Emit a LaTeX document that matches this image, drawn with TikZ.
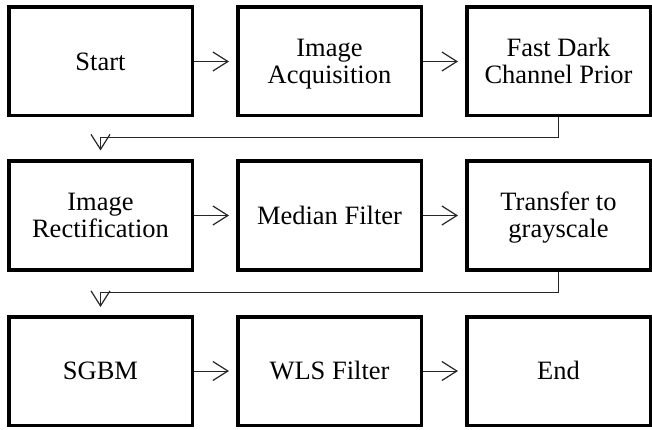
\documentclass[tikz,border=0pt]{standalone}
\usepackage{fontspec}
\setmainfont{Liberation Serif}
\newfontfamily\timesfont{Liberation Serif}
\newcommand{\tp}{\rule{0pt}{23.5pt}}
\newcommand{\bt}{\rule[-6pt]{0pt}{6pt}}
\usetikzlibrary{arrows.meta}
\begin{document}
\begin{tikzpicture}[x=1pt,y=-1pt,
  stepbox/.style={draw=black, line width=3.5pt, rectangle, minimum width=183.5pt, minimum height=108.5pt, align=center, inner sep=2pt, font=\timesfont\fontsize{26.5}{27}\selectfont},
  conn/.style={draw=black!85, line width=0.9pt, -{Straight Barb[length=15pt,width=19pt,line width=1.2pt]}},
]
\useasboundingbox (0,0) rectangle (652,430);
\node[stepbox] (start) at (100.5,61.5) {\tp Start\bt};
\node[stepbox] (acq) at (329.5,61.5) {\tp Image\\Acquisition\bt};
\node[stepbox] (fdcp) at (558.5,61.5) {\tp Fast Dark\\Channel Prior\bt};
\node[stepbox] (rect) at (100.5,215.5) {\tp Image\\Rectification\bt};
\node[stepbox] (med) at (329.5,215.5) {\tp Median Filter\bt};
\node[stepbox] (gray) at (558.5,215.5) {\tp Transfer to\\grayscale\bt};
\node[stepbox] (sgbm) at (100.5,371) {\tp SGBM\bt};
\node[stepbox] (wls) at (329.5,371) {\tp WLS Filter\bt};
\node[stepbox] (end) at (558.5,371) {\tp End\bt};
\draw[conn, shorten >=7pt] (start) -- (acq);
\draw[conn, shorten >=7pt] (acq) -- (fdcp);
\draw[conn, shorten >=7pt] (rect) -- (med);
\draw[conn, shorten >=7pt] (med) -- (gray);
\draw[conn, shorten >=7pt] (sgbm) -- (wls);
\draw[conn, shorten >=7pt] (wls) -- (end);
\draw[conn, shorten >=9pt] (fdcp.south) -- ++(0,20) -| (rect.north);
\draw[conn, shorten >=8pt] (gray.south) -- ++(0,21) -| (sgbm.north);
\end{tikzpicture}
\end{document}
